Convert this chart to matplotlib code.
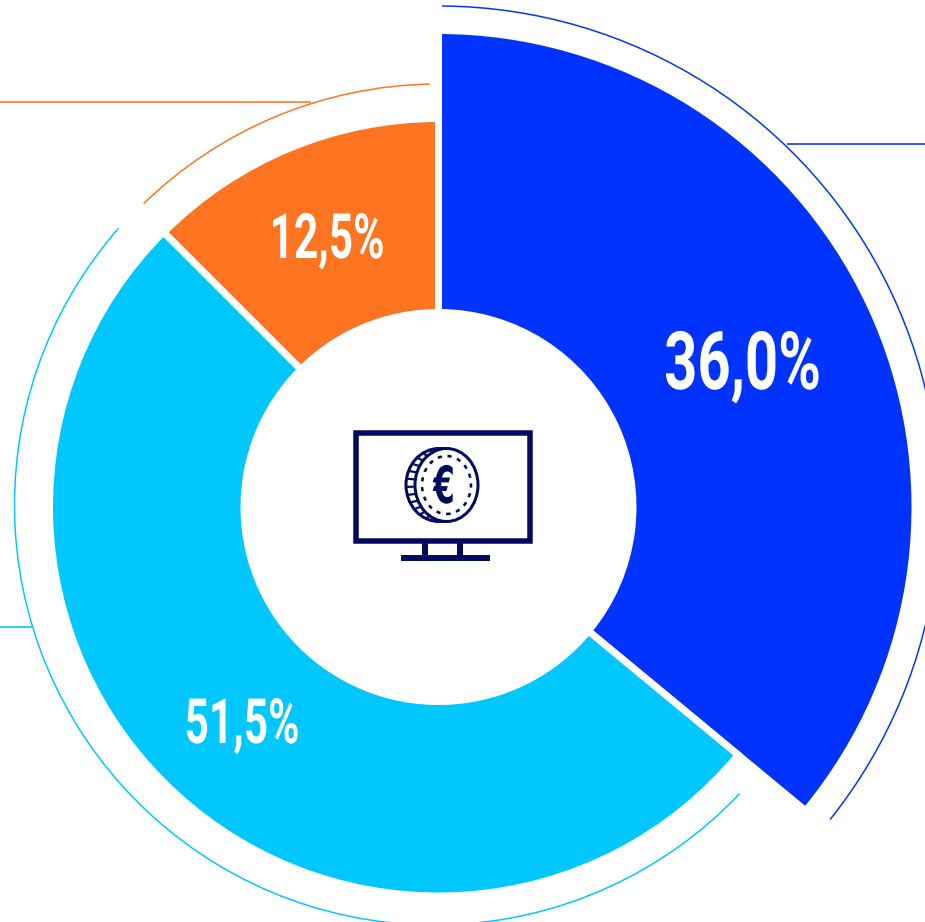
import numpy as np
import matplotlib
matplotlib.use("Agg")
import matplotlib.pyplot as plt
from matplotlib.patches import Wedge, Arc, Rectangle, Ellipse
from matplotlib.patheffects import AbstractPathEffect
from matplotlib.transforms import Affine2D

# shares, clockwise from 12 o'clock
labels = ["36,0%", "51,5%", "12,5%"]
shares = [36.0, 51.5, 12.5]
colors = ["#0033ff", "#00c8ff", "#ff7420"]
radii = [476.5, 389, 388.5]
arc_radii = [501, 420, 423]
arc_gap_start = [0.4, 3.8, 0.8]
arc_gap_end = [1.0, 3.8, 1.2]
label_pos = [(742.5, 389), (242, 743), (327, 258)]
label_size = [58, 45, 45]
label_squeeze = [0.72, 0.68, 0.68]
leaders = [(787, 925, 144), (0, 32, 626.5), (0, 311, 102)]

W, H = 925, 922
navy = "#000a5e"
cx, cy = 438.5, H - 507
px = 72.0 / 100


class Squeeze(AbstractPathEffect):
    # no condensed font installed, so narrow the text glyphs around their centre
    def __init__(self, sx, x0):
        super().__init__()
        self.sx = sx
        self.x0 = x0

    def draw_path(self, renderer, gc, tpath, affine, rgbFace=None):
        a = affine + Affine2D().translate(-self.x0, 0).scale(self.sx, 1).translate(self.x0, 0)
        renderer.draw_path(gc, tpath, a, rgbFace)


def Y(y):
    return H - y


fig = plt.figure(figsize=(9.25, 9.22), dpi=100)
ax = fig.add_axes([0, 0, 1, 1])
ax.set_xlim(0, W)
ax.set_ylim(0, H)
ax.axis("off")

start = 90.0
for i in range(len(shares)):
    sweep = shares[i] * 3.6
    end = start - sweep
    w = Wedge((cx, cy), radii[i], end, start, width=radii[i] - 194.5,
              facecolor=colors[i], edgecolor="white", linewidth=7 * px)
    ax.add_patch(w)

    # thin outer arc, stops a little before the slice ends
    a_center = (cx - 4, cy + 2) if i == 1 else (cx, cy)
    d = arc_radii[i] * 2
    ax.add_patch(Arc(a_center, d, d, theta1=end + arc_gap_end[i], theta2=start - arc_gap_start[i],
                     color=colors[i], linewidth=1.5 * px))

    x0, x1, y = leaders[i]
    ax.plot([x0, x1], [Y(y), Y(y)], color=colors[i], linewidth=1.6 * px, solid_capstyle="butt")

    lx, ly = label_pos[i]
    ax.text(lx, Y(ly), labels[i], color="white", ha="center", va="baseline",
            fontsize=label_size[i], fontweight="bold", family="Roboto",
            path_effects=[Squeeze(label_squeeze[i], lx)])
    start = end

# monitor icon
ax.add_patch(Rectangle((355.5, Y(540.5)), 174, 108, fill=False, edgecolor=navy, linewidth=5.5 * px))
ax.add_patch(Rectangle((422, Y(556)), 5.5, 13, color=navy, linewidth=0))
ax.add_patch(Rectangle((457, Y(556)), 5.5, 13, color=navy, linewidth=0))
ax.add_patch(Rectangle((401, Y(561)), 89, 6, color=navy, linewidth=0))

# coin
ax.add_patch(Ellipse((439, Y(485)), 66, 73, facecolor="white", edgecolor=navy, linewidth=3 * px))
for t in np.radians(np.arange(105, 260, 13)):
    ax.plot([439 + 33 * np.cos(t), 439 + 26 * np.cos(t)],
            [Y(485) + 36 * np.sin(t), Y(485) + 33 * np.sin(t)], color=navy, linewidth=2.2 * px)
ax.add_patch(Ellipse((446.5, Y(485)), 63, 73, facecolor="white", edgecolor=navy, linewidth=3 * px))
ax.add_patch(Ellipse((446.5, Y(485)), 49, 58, fill=False, edgecolor=navy, linewidth=2.6 * px,
                     linestyle=(0, (1.6, 2.2))))
ax.text(444, Y(503), "€", color=navy, ha="center", va="baseline", fontsize=37, fontweight="bold",
        family="DejaVu Sans", path_effects=[Squeeze(0.6, 444)])

fig.savefig("out.png", dpi=100, facecolor="white")
